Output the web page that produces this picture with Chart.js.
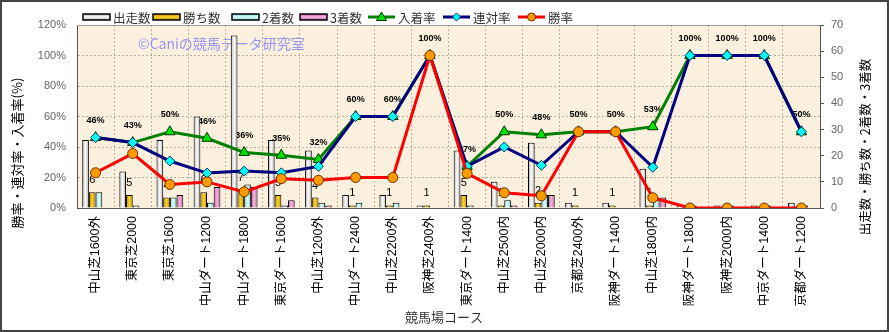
<!DOCTYPE html>
<html>
<head>
<meta charset="utf-8">
<script src="https://cdn.jsdelivr.net/npm/chart.js@4"></script>
<style>
  body { margin: 0; background: #fff; }
  #wrap { width: 889px; height: 332px; position: relative; }
</style>
</head>
<body>
<div id="wrap"><canvas id="myChart"></canvas></div>
<script>
// 競馬場コース別成績
const courses = ["中山芝1600外", "東京芝2000", "東京芝1600", "中山ダート1200", "中山ダート1800",
  "東京ダート1600", "中山芝1200外", "中山ダート2400", "中山芝2200外", "阪神芝2400外",
  "東京ダート1400", "中山芝2500内", "中山芝2000内", "京都芝2400外", "阪神ダート1400",
  "中山芝1800内", "阪神ダート1800", "阪神芝2000内", "中京ダート1400", "京都ダート1200"]

const starts  = [26, 14, 26, 35, 66, 26, 22, 5, 5, 1, 22, 10, 25, 2, 2, 15, 1, 1, 1, 2]
const wins    = [6, 5, 4, 6, 7, 5, 4, 1, 1, 1, 5, 1, 2, 1, 1, 1, 0, 0, 0, 0]
const seconds = [6, 1, 4, 2, 9, 1, 2, 2, 2, 0, 1, 3, 5, 0, 0, 3, 1, 1, 1, 1]
const thirds  = [0, 0, 5, 8, 8, 3, 1, 0, 0, 0, 0, 1, 5, 0, 0, 4, 0, 0, 0, 0]

// 率 (%)
const placeRate  = [46.2, 42.9, 50, 45.7, 36.4, 34.6, 31.8, 60, 60, 100, 27.3, 50, 48, 50, 50, 53.3, 100, 100, 100, 50]
const rentaiRate = [46.2, 42.9, 30.8, 22.9, 24.2, 23.1, 27.3, 60, 60, 100, 27.3, 40, 28, 50, 50, 26.7, 100, 100, 100, 50]
const winRate    = [23.1, 35.7, 15.4, 17.1, 10.6, 19.2, 18.2, 20, 20, 100, 22.7, 10, 8, 50, 50, 6.7, 0, 0, 0, 0]

const leftTicks = [0, 20, 40, 60, 80, 100, 120]
const rightTicks = [0, 10, 20, 30, 40, 50, 60, 70]

const JP = "'Noto Sans CJK JP', sans-serif"
const LAT = "'Liberation Sans', 'Noto Sans CJK JP', sans-serif"
const CAT_PCT = 0.72

const barColors = [
  ["#a9a9a9", "#ffffff"],
  ["#b98800", "#ffd428"],
  ["#7fcfcf", "#dcffff"],
  ["#c0609e", "#f9b4e2"],
]

function barFill(k) {
  return function (c) {
    const chart = c.chart
    const xs = chart.scales.x
    if (c.dataIndex === undefined || !xs || !xs.width) return barColors[k][1]
    const w = xs.width / courses.length
    const group = w * CAT_PCT
    const bw = group / 4
    const left = xs.getPixelForValue(c.dataIndex) - group / 2 + bw * k
    const g = chart.ctx.createLinearGradient(left, 0, left + bw, 0)
    g.addColorStop(0, barColors[k][0])
    g.addColorStop(0.5, barColors[k][1])
    g.addColorStop(1, barColors[k][0])
    return g
  }
}

function barSet(label, data, k) {
  return {
    type: "bar", label: label, data: data, yAxisID: "y2", order: 5,
    backgroundColor: barFill(k), borderColor: "#000", borderWidth: 1,
    categoryPercentage: CAT_PCT, barPercentage: 1,
  }
}

const datasets = [
  barSet("出走数", starts, 0),
  barSet("勝ち数", wins, 1),
  barSet("2着数", seconds, 2),
  barSet("3着数", thirds, 3),
  {
    type: "line", label: "入着率", data: placeRate, yAxisID: "y", order: 2,
    borderColor: "#008000", borderWidth: 3, tension: 0,
    pointStyle: "triangle", pointRadius: 6, pointBackgroundColor: "#00e600",
    pointBorderColor: "#003300", pointBorderWidth: 1,
  },
  {
    type: "line", label: "連対率", data: rentaiRate, yAxisID: "y", order: 1,
    borderColor: "#000080", borderWidth: 3, tension: 0,
    pointStyle: "rectRot", pointRadius: 5, pointBackgroundColor: "#00ffff",
    pointBorderColor: "#003355", pointBorderWidth: 1,
  },
  {
    type: "line", label: "勝率", data: winRate, yAxisID: "y", order: 0,
    borderColor: "#ff0000", borderWidth: 3, tension: 0,
    pointStyle: "circle", pointRadius: 5, pointBackgroundColor: "#ff9a00",
    pointBorderColor: "#663300", pointBorderWidth: 1,
  },
]

// 背景・ラベル・凡例など
const decor = {
  id: "decor",
  beforeDraw(chart) {
    const ctx = chart.ctx
    const a = chart.chartArea
    ctx.save()
    ctx.fillStyle = "#fff"
    ctx.fillRect(0, 0, chart.width, chart.height)
    ctx.fillStyle = "#faf0dd"
    ctx.fillRect(a.left, a.top, a.right - a.left, a.bottom - a.top)
    ctx.restore()
  },
  beforeDatasetsDraw(chart) {
    const ctx = chart.ctx
    ctx.save()
    // 透かし
    ctx.font = "14px " + JP
    ctx.fillStyle = "#9696f5"
    ctx.textAlign = "left"
    ctx.textBaseline = "middle"
    ctx.fillText("©Caniの競馬データ研究室", 138, 44)

    // 入着率ラベル
    const ys = chart.scales.y
    const y2 = chart.scales.y2
    const xs = chart.scales.x
    ctx.font = "bold 9px " + LAT
    ctx.fillStyle = "#000"
    ctx.textAlign = "center"
    for (let i = 0; i < courses.length; i++) {
      ctx.fillText(Math.round(placeRate[i]) + "%", xs.getPixelForValue(i), ys.getPixelForValue(placeRate[i]) - 17)
    }
    // 勝ち数ラベル
    const meta = chart.getDatasetMeta(1)
    ctx.font = "11px " + LAT
    for (let i = 0; i < courses.length; i++) {
      if (wins[i] > 0) {
        ctx.fillText(String(wins[i]), meta.data[i].x, y2.getPixelForValue(wins[i]) - 12)
      }
    }
    ctx.restore()
  },
  afterDraw(chart) {
    const ctx = chart.ctx
    const a = chart.chartArea
    ctx.save()
    // 上枠
    ctx.strokeStyle = "#999"
    ctx.lineWidth = 1
    ctx.beginPath()
    ctx.moveTo(a.left, a.top + 0.5)
    ctx.lineTo(a.right, a.top + 0.5)
    ctx.stroke()

    // 軸タイトル
    ctx.fillStyle = "#000"
    ctx.textAlign = "center"
    ctx.textBaseline = "middle"
    ctx.font = "13px " + JP
    ctx.save()
    ctx.translate(17, 153)
    ctx.rotate(-Math.PI / 2)
    ctx.fillText("勝率・連対率・入着率(%)", 0, 0)
    ctx.restore()
    ctx.save()
    ctx.translate(865, 147)
    ctx.rotate(-Math.PI / 2)
    ctx.font = "12.5px " + JP
    ctx.fillText("出走数・勝ち数・2着数・3着数", 0, 0)
    ctx.restore()
    ctx.fillStyle = "#333"
    ctx.font = "13px " + JP
    ctx.fillText("競馬場コース", 444, 317)

    // 凡例
    const legendX = [83, 153, 232, 300, 368, 443, 518]
    const ly = 17
    ctx.textAlign = "left"
    ctx.font = "12.5px " + JP
    datasets.forEach(function (ds, i) {
      const x = legendX[i]
      if (ds.type === "bar") {
        const g = ctx.createLinearGradient(0, ly - 3, 0, ly + 3)
        g.addColorStop(0, barColors[i][0])
        g.addColorStop(0.5, barColors[i][1])
        g.addColorStop(1, barColors[i][0])
        ctx.fillStyle = g
        ctx.fillRect(x, ly - 3, 27, 6)
        ctx.strokeStyle = "#000"
        ctx.lineWidth = 1.5
        ctx.strokeRect(x, ly - 3, 27, 6)
      } else {
        ctx.strokeStyle = ds.borderColor
        ctx.lineWidth = 3
        ctx.beginPath()
        ctx.moveTo(x, ly)
        ctx.lineTo(x + 27, ly)
        ctx.stroke()
        ctx.fillStyle = ds.pointBackgroundColor
        ctx.strokeStyle = ds.pointBorderColor
        ctx.lineWidth = 1
        ctx.beginPath()
        if (ds.pointStyle === "circle") {
          ctx.arc(x + 13.5, ly, 4, 0, Math.PI * 2)
        } else if (ds.pointStyle === "triangle") {
          ctx.moveTo(x + 13.5, ly - 5); ctx.lineTo(x + 18.5, ly + 3.5); ctx.lineTo(x + 8.5, ly + 3.5); ctx.closePath()
        } else {
          ctx.moveTo(x + 13.5, ly - 4); ctx.lineTo(x + 17.5, ly); ctx.lineTo(x + 13.5, ly + 4); ctx.lineTo(x + 9.5, ly); ctx.closePath()
        }
        ctx.fill()
        ctx.stroke()
      }
      ctx.fillStyle = "#333"
      ctx.fillText(ds.label, x + 30, ly + 1)
    })

    // 外枠
    ctx.strokeStyle = "#444"
    ctx.lineWidth = 2
    ctx.strokeRect(1, 1, chart.width - 2, chart.height - 2)
    ctx.restore()
  },
}

const config = {
  data: { labels: courses, datasets: datasets },
  options: {
    responsive: true,
    maintainAspectRatio: false,
    animation: false,
    devicePixelRatio: 1,
    layout: { padding: { top: 25, left: 0, right: 0, bottom: 0 } },
    plugins: { legend: { display: false }, tooltip: { enabled: false } },
    scales: {
      x: {
        type: "category",
        offset: true,
        grid: { offset: true, color: "#b9b09c", drawTicks: false },
        border: { color: "#555", dash: [2, 2] },
        ticks: {
          autoSkip: false, minRotation: 90, maxRotation: 90, padding: 8,
          color: "#000", font: { size: 12.5, family: LAT },
        },
        afterFit: function (s) { s.height = 124 },
      },
      y: {
        position: "left",
        min: 0, max: 120,
        afterBuildTicks: function (s) { s.ticks = leftTicks.map(function (v) { return { value: v } }) },
        grid: { color: "#b9b09c", drawTicks: false },
        border: { color: "#555", dash: [2, 2] },
        ticks: {
          padding: 11, color: "#666", font: { size: 11, family: LAT },
          callback: function (v) { return v + "%" },
        },
        afterFit: function (s) { s.width = 77 },
      },
      y2: {
        position: "right",
        min: 0, max: 70,
        afterBuildTicks: function (s) { s.ticks = rightTicks.map(function (v) { return { value: v } }) },
        grid: { drawOnChartArea: false, drawTicks: true, tickLength: 4, color: "#555" },
        border: { color: "#555" },
        ticks: { padding: 7, color: "#666", font: { size: 11, family: LAT } },
        afterFit: function (s) { s.width = 69 },
      },
    },
  },
  plugins: [decor],
}

const myChart = new Chart(document.getElementById("myChart"), config)
</script>
</body>
</html>
